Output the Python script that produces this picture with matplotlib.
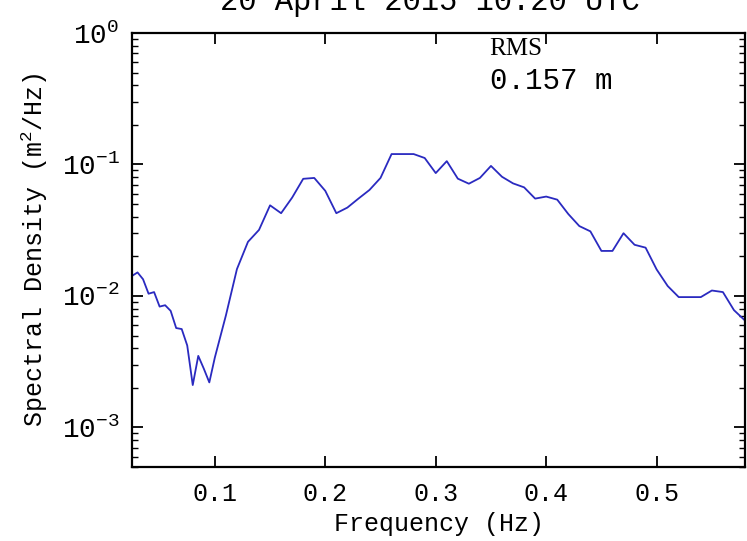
import matplotlib
matplotlib.use("Agg")
import matplotlib.pyplot as plt
from matplotlib.ticker import LogLocator, NullLocator

# band centre frequencies (Hz) and spectral density (m^2/Hz)
freq = [0.025, 0.030, 0.035, 0.040, 0.045, 0.050, 0.055, 0.060,
        0.065, 0.070, 0.075, 0.080, 0.085, 0.090, 0.095, 0.100,
        0.11, 0.12, 0.13, 0.14, 0.15, 0.16, 0.17, 0.18, 0.19, 0.20,
        0.21, 0.22, 0.23, 0.24, 0.25, 0.26, 0.27, 0.28, 0.29, 0.30,
        0.31, 0.32, 0.33, 0.34, 0.35, 0.36, 0.37, 0.38, 0.39, 0.40,
        0.41, 0.42, 0.43, 0.44, 0.45, 0.46, 0.47, 0.48, 0.49, 0.50,
        0.51, 0.52, 0.53, 0.54, 0.55, 0.56, 0.57, 0.58]
density = [0.0142, 0.0151, 0.0134, 0.0104, 0.0107, 0.0083, 0.0085, 0.0077,
           0.0057, 0.0056, 0.0042, 0.0021, 0.0035, 0.0028, 0.0022, 0.0034,
           0.0071, 0.016, 0.0258, 0.0318, 0.0489, 0.0426, 0.056, 0.0778, 0.079, 0.063,
           0.0426, 0.047, 0.055, 0.064, 0.079, 0.12, 0.12, 0.12, 0.112, 0.086,
           0.106, 0.078, 0.0714, 0.079, 0.0975, 0.0806, 0.0718, 0.067, 0.055, 0.057,
           0.054, 0.042, 0.034, 0.031, 0.022, 0.022, 0.030, 0.0245, 0.0233, 0.0159,
           0.0119, 0.0098, 0.0098, 0.0098, 0.011, 0.0107, 0.0078, 0.0065]
xticks = [0.1, 0.2, 0.3, 0.4, 0.5]

title = "20 April 2015 10:20 UTC"
rms_text = "0.157 m"

plt.rcParams["font.family"] = ["Liberation Mono", "DejaVu Sans Mono"]
plt.rcParams["mathtext.fontset"] = "custom"
plt.rcParams["mathtext.rm"] = "Liberation Mono"
plt.rcParams["mathtext.it"] = "Liberation Mono"
plt.rcParams["mathtext.bf"] = "Liberation Mono"

fig = plt.figure(figsize=(7.47, 5.41), dpi=100)
ax = fig.add_axes([132 / 747, 74 / 541, 613 / 747, 434 / 541])

ax.plot(freq, density, color="#2a2ac0", lw=1.3)

ax.set_yscale("log")
ax.set_xlim(0.025, 0.58)
ax.set_ylim(5e-4, 1)
ax.set_xticks(xticks)
ax.set_xticklabels([str(t) for t in xticks])
ax.xaxis.set_minor_locator(NullLocator())
ax.yaxis.set_major_locator(LogLocator(base=10, numticks=10))
ax.yaxis.set_minor_locator(LogLocator(base=10, subs=range(2, 10), numticks=20))

ax.tick_params(which="both", direction="in", top=True, right=True,
               labelsize=18, color="black")
ax.tick_params(axis="x", pad=11)
ax.tick_params(axis="y", pad=9, labelsize=20)
ax.tick_params(which="major", length=8, width=1.3)
ax.tick_params(which="minor", length=4, width=1.0)
for s in ax.spines.values():
    s.set_linewidth(1.6)

ax.set_xlabel("Frequency (Hz)", fontsize=18, labelpad=4)
ax.set_ylabel("Spectral Density (m$^{2}$/Hz)", fontsize=18, labelpad=8)

ax.text(0.582, 0.963, "RMS", transform=ax.transAxes, fontsize=18,
        family="Liberation Serif", va="center", ha="left")
ax.text(0.584, 0.889, rms_text, transform=ax.transAxes, fontsize=21,
        va="center", ha="left")

fig.text(430 / 747, 1 - 10 / 541, title, fontsize=22, ha="center",
         va="baseline")

fig.savefig("out.png", dpi=100)
